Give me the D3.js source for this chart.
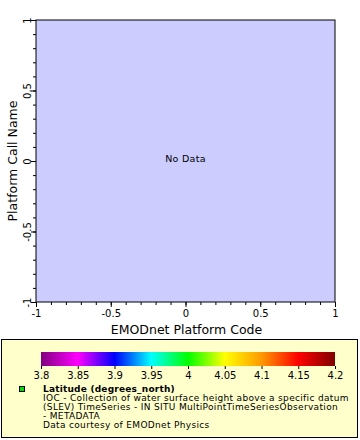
<!DOCTYPE html>
<html><head><meta charset="utf-8">
<script src="https://cdn.jsdelivr.net/npm/d3@7"></script>
<style>body{margin:0;background:#fff}svg{display:block;font-family:"DejaVu Sans",sans-serif}</style>
</head><body>
<svg id="c" width="360" height="440"></svg>
<script>
const xDomain = [-1, 1];
const yDomain = [-1, 1];
const majorTicks = [-1, -0.5, 0, 0.5, 1];
const minorTicks = [-1, -0.9, -0.8, -0.7, -0.6, -0.5, -0.4, -0.3, -0.2, -0.1, 0, 0.1, 0.2, 0.3, 0.4, 0.5, 0.6, 0.7, 0.8, 0.9, 1];
const xTitle = "EMODnet Platform Code";
const yTitle = "Platform Call Name";
const noDataText = "No Data";
const cbTicks = [3.8, 3.85, 3.9, 3.95, 4, 4.05, 4.1, 4.15, 4.2];
const cbColors = ["#800080", "#ff00ff", "#0000ff", "#00ffff", "#00ff00", "#ffff00", "#ff9900", "#ff0000", "#800000"];
const legendTitle = "Latitude (degrees_north)";
const legendLines = [
  "IOC - Collection of water surface height above a specific datum",
  "(SLEV) TimeSeries - IN SITU MultiPointTimeSeriesObservation",
  "- METADATA",
  "Data courtesy of EMODnet Physics"
];

const svg = d3.select("#c");
const L = 36, R = 335, T = 20, B = 302;
const x = d3.scaleLinear().domain(xDomain).range([L, R]);
const y = d3.scaleLinear().domain(yDomain).range([B, T]);

svg.append("rect").attr("x", L).attr("y", T).attr("width", R - L).attr("height", B - T)
  .attr("fill", "#ccccff").attr("stroke", "#000").attr("stroke-width", 1);

const fmt = d => String(d);
// x axis
const gx = svg.append("g").attr("transform", `translate(0,${B})`);
gx.call(d3.axisBottom(x).tickValues(minorTicks).tickSize(3).tickFormat("").tickSizeOuter(0));
gx.call(g => g.select(".domain").remove());
const gx2 = svg.append("g").attr("transform", `translate(0,${B})`)
  .call(d3.axisBottom(x).tickValues(majorTicks).tickSize(5).tickPadding(3).tickFormat(fmt).tickSizeOuter(0));
gx2.select(".domain").remove();
gx2.selectAll("text").attr("font-size", 10).attr("font-family", "DejaVu Sans").attr("fill", "#000");

// y axis
const gy = svg.append("g").attr("transform", `translate(${L},0)`)
  .call(d3.axisLeft(y).tickValues(minorTicks).tickSize(3).tickFormat("").tickSizeOuter(0));
gy.select(".domain").remove();
const gy2 = svg.append("g").attr("transform", `translate(${L},0)`)
  .call(d3.axisLeft(y).tickValues(majorTicks).tickSize(5).tickFormat(fmt).tickSizeOuter(0));
gy2.select(".domain").remove();
gy2.selectAll("text").attr("font-size", 10).attr("font-family", "DejaVu Sans").attr("fill", "#000")
  .attr("x", 0).attr("dy", 0).attr("text-anchor", "middle")
  .attr("transform", "translate(-5,0) rotate(-90)");
svg.selectAll("g line").attr("stroke", "#000");

svg.append("text").attr("x", (L + R) / 2 + 1).attr("y", 334).attr("text-anchor", "middle")
  .attr("font-size", 12.5).text(xTitle);
svg.append("text").attr("transform", `translate(17,${(T + B) / 2}) rotate(-90)`).attr("text-anchor", "middle")
  .attr("font-size", 12.5).text(yTitle);
svg.append("text").attr("x", x(0) + 0).attr("y", y(0) + 1).attr("text-anchor", "middle")
  .attr("font-size", 9.5).attr("letter-spacing", 0.3).text(noDataText);

// legend box
svg.append("rect").attr("x", 1.5).attr("y", 339.5).attr("width", 356).attr("height", 98)
  .attr("fill", "#ffffcc").attr("stroke", "#000").attr("stroke-width", 1);

// colorbar
const cb = d3.scaleLinear().domain([cbTicks[0], cbTicks[cbTicks.length - 1]]).range([41, 335]);
const grad = svg.append("defs").append("linearGradient").attr("id", "cbg")
  .attr("gradientUnits", "userSpaceOnUse").attr("x1", cb.range()[0]).attr("x2", cb.range()[1]).attr("y1", 0).attr("y2", 0);
cbTicks.forEach((t, i) => grad.append("stop")
  .attr("offset", (cb(t) - cb.range()[0]) / (cb.range()[1] - cb.range()[0])).attr("stop-color", cbColors[i]));
svg.append("rect").attr("x", cb.range()[0]).attr("y", 352).attr("width", cb.range()[1] - cb.range()[0]).attr("height", 14)
  .attr("fill", "url(#cbg)");
const gcb = svg.append("g").attr("transform", "translate(0,366)")
  .call(d3.axisBottom(cb).tickValues(cbTicks).tickSize(3).tickPadding(3).tickFormat(fmt).tickSizeOuter(0));
gcb.select(".domain").remove();
gcb.selectAll("line").attr("stroke", "#000");
gcb.selectAll("text").attr("font-size", 10).attr("font-family", "DejaVu Sans").attr("fill", "#000");

// legend marker and text
svg.append("rect").attr("x", 19.5).attr("y", 386.5).attr("width", 5).attr("height", 5)
  .attr("fill", "#00dd00").attr("stroke", "#000").attr("stroke-width", 1);
svg.append("text").attr("x", 43).attr("y", 391.5).attr("font-size", 9).attr("font-weight", "bold")
  .attr("letter-spacing", 0.2).text(legendTitle);
legendLines.forEach((s, i) => {
  svg.append("text").attr("x", 43).attr("y", 400.5 + 9 * i).attr("font-size", 9)
    .attr("letter-spacing", 0.33).text(s);
});
</script>
</body></html>
